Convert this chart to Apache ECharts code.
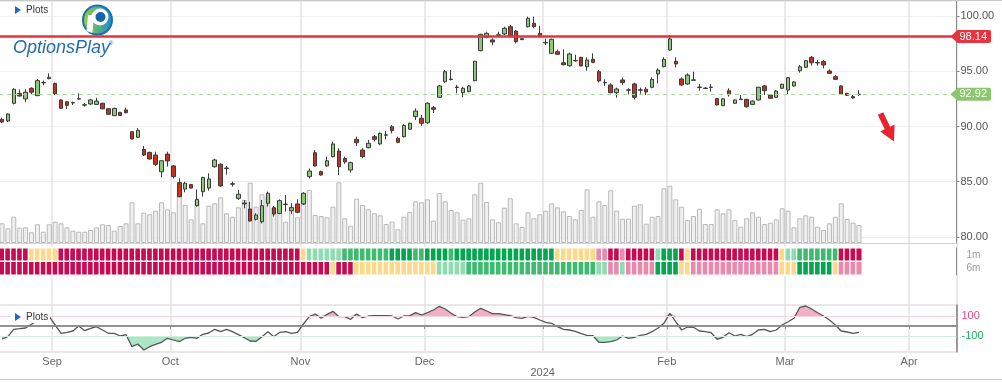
<!DOCTYPE html>
<html><head><meta charset="utf-8">
<script src="https://cdn.jsdelivr.net/npm/echarts@6/dist/echarts.min.js"></script>
<style>html,body{margin:0;padding:0;background:#fff}#c{width:1002px;height:382px}</style>
</head><body><div id="c"></div><script>
// ---------- data ----------
const START_DATE = '2023-08-21';
const HOLIDAYS = ['2023-09-04','2023-11-23','2023-12-25','2024-01-01','2024-01-15','2024-02-19'];
const SLOT_COUNT = 162;
const MONTHS = ['Jan','Feb','Mar','Apr','May','Jun','Jul','Aug','Sep','Oct','Nov','Dec'];
const RESISTANCE = 98.14;

const opens = [
90.65,90.5,92.1,93.0,92.5,93.46,92.79,93.95,94.33,93.9,
92.4,92.24,92.13,92.48,91.93,92.04,92.0,92.1,91.61,90.98,
91.28,91.5,89.53,89.02,87.93,87.66,87.42,85.9,87.5,86.43,
84.92,84.34,84.74,82.83,84.1,84.43,86.36,86.58,86.2,84.78,
83.5,83.08,82.53,81.6,81.38,83.05,82.65,82.14,82.94,82.38,
82.99,82.99,85.46,87.63,85.91,86.43,87.27,87.78,87.1,86.06,
88.84,87.87,88.08,89.08,88.42,89.21,89.98,88.93,89.08,89.75,
90.89,90.74,90.34,91.7,92.64,94.05,94.25,93.53,93.06,93.15,
94.15,96.86,98.07,97.83,98.26,98.37,99.03,98.64,97.95,99.03,
99.34,98.43,97.57,96.62,96.77,95.77,95.5,95.94,96.26,95.41,
96.08,94.96,93.95,93.76,93.06,94.21,93.28,93.85,93.28,93.37,
93.55,94.75,95.41,96.92,95.9,94.3,93.85,94.18,93.53,93.44,
93.53,92.52,91.88,93.24,92.1,92.44,92.46,92.0,92.4,93.67,
92.85,92.64,93.46,93.3,93.67,95.05,95.36,96.26,95.75,95.87,
95.02,94.51,93.67,93.0,92.7,92.9];
const closes = [
90.41,91.13,93.37,92.76,93.1,93.1,94.15,93.99,94.45,92.94,
91.65,91.92,92.16,92.52,91.97,92.4,92.3,91.6,91.1,91.64,
91.0,91.25,88.87,89.66,87.42,87.06,86.58,86.9,86.88,85.46,
83.65,84.86,84.43,83.41,85.37,85.25,86.97,84.62,86.24,84.82,
83.87,83.0,81.45,81.99,82.83,83.96,82.08,83.29,82.98,82.65,
82.23,83.96,85.97,86.43,85.61,86.9,88.42,86.36,86.8,86.73,
88.53,87.27,88.48,88.84,89.38,89.25,89.62,88.57,90.1,90.29,
91.4,90.29,92.1,91.56,93.67,94.96,94.29,93.57,93.46,93.67,
95.9,98.34,98.43,97.65,98.3,98.89,98.13,97.67,97.86,99.79,
99.03,98.13,97.61,97.89,96.53,95.59,96.56,95.98,95.48,96.02,
95.81,94.12,93.99,93.06,93.39,93.97,93.32,92.64,93.32,93.12,
94.27,95.11,96.08,97.92,95.66,93.76,94.66,94.22,93.57,93.48,
93.57,91.95,92.5,92.88,92.4,92.48,91.79,92.3,93.55,93.24,
92.55,93.21,93.82,94.42,94.03,95.41,95.96,95.77,95.79,95.57,
94.81,94.27,92.91,92.82,92.58,92.92];
const lows = [
90.3,90.4,92.0,92.7,92.2,92.85,92.75,93.73,94.27,92.85,
91.6,91.6,91.95,92.45,91.8,91.95,91.95,91.55,91.05,90.95,
90.97,91.2,88.82,88.95,87.33,87.0,86.43,85.4,86.37,85.3,
83.6,84.04,84.38,82.75,83.65,84.2,86.27,84.55,85.64,84.57,
83.35,82.6,81.4,81.5,81.23,82.75,81.85,82.05,82.3,82.08,
82.14,82.9,85.3,86.36,85.55,86.36,87.2,85.6,86.63,85.82,
88.23,87.12,88.03,88.66,88.35,88.84,89.38,88.48,89.0,89.7,
90.59,90.05,90.25,91.22,92.6,93.95,94.15,93.0,92.64,93.1,
94.1,96.8,97.98,97.35,98.13,98.28,98.07,97.52,97.83,98.97,
98.88,98.07,97.37,96.56,96.47,95.53,95.41,95.86,95.45,95.05,
95.72,94.0,93.67,93.0,92.61,93.76,92.9,92.45,92.97,92.85,
93.46,93.9,95.35,96.86,95.35,93.67,93.76,94.15,93.24,93.4,
93.15,91.9,91.85,92.7,92.05,92.4,91.7,91.95,92.35,92.85,
92.5,92.6,93.4,92.94,93.6,94.87,95.3,95.5,95.5,95.26,
94.75,94.21,92.85,92.76,92.52,92.76];
const highs = [
90.8,91.2,93.45,93.35,93.37,93.55,94.3,94.15,94.81,93.97,
92.45,92.3,92.25,93.0,92.13,92.5,92.6,92.15,91.65,91.7,
91.32,91.7,89.6,89.85,88.23,87.72,87.72,86.95,87.72,86.52,
85.3,85.0,84.8,84.3,85.46,85.76,87.06,86.67,86.43,85.0,
84.25,83.35,83.17,82.15,83.35,84.1,82.8,83.41,83.8,83.05,
83.41,84.05,86.2,87.87,86.0,87.27,88.63,88.03,87.27,86.82,
89.08,88.03,88.78,89.23,89.45,89.6,90.13,89.08,90.2,90.35,
91.64,91.04,92.2,91.86,93.75,95.11,95.11,93.77,93.6,93.75,
95.95,98.4,98.58,97.98,98.58,99.03,99.18,98.73,97.98,99.94,
99.94,99.09,97.95,97.95,96.98,96.98,96.68,96.5,96.3,96.26,
96.62,95.11,94.27,93.91,93.52,94.42,93.46,93.97,93.52,93.55,
94.45,95.26,96.26,98.28,96.26,94.45,94.81,94.96,93.85,93.55,
93.85,92.6,92.55,93.46,92.45,92.85,92.5,92.35,93.6,93.76,
92.9,93.3,93.88,94.48,94.1,95.56,96.02,96.38,96.02,96.02,
95.17,94.66,93.73,93.06,92.85,93.3];
const volumesM = [
1.97,1.47,2.63,1.53,1.57,1.07,1.87,1.13,1.87,2.13,
1.97,1.57,1.23,1.13,1.13,1.30,1.57,1.87,1.80,1.23,
1.70,1.97,4.07,1.97,3.03,2.87,3.23,4.07,3.37,3.07,
4.87,3.80,2.37,4.30,1.97,3.73,3.97,4.57,2.97,2.63,
3.57,4.30,6.03,3.63,4.87,4.70,3.53,4.20,2.13,3.63,
2.57,4.80,5.30,2.80,2.70,2.57,3.63,6.07,2.47,1.73,
4.43,3.80,3.37,2.97,2.77,1.90,2.13,1.37,2.63,3.10,
4.17,4.07,4.37,2.23,5.00,4.17,3.30,3.07,2.33,2.47,
4.87,6.03,4.10,2.37,2.07,3.53,4.47,1.97,1.60,3.07,
2.47,2.87,3.23,3.97,3.57,3.17,2.70,2.37,3.30,5.37,
2.63,4.17,3.80,5.27,3.23,2.43,2.43,3.73,3.87,1.93,
2.63,2.70,5.47,5.73,4.37,3.63,2.30,2.70,3.43,1.90,
1.90,3.37,2.97,3.37,2.30,1.63,2.47,3.07,2.63,1.90,
2.03,2.37,3.47,3.23,1.57,2.47,2.77,2.63,1.63,1.30,
1.97,2.63,3.97,2.40,2.03,1.80];
const cci = [
-130,-107,-33,-27,-20,17,53,77,93,10,
-73,-63,-50,0,-47,-23,-7,-40,-73,-73,
-100,-87,-207,-180,-240,-207,-183,-163,-123,-140,
-157,-123,-113,-123,-83,-70,-33,-57,-33,-57,
-87,-117,-150,-153,-107,-57,-107,-63,-57,-73,
-63,20,93,120,77,117,147,93,93,67,
120,83,100,103,103,103,100,70,100,103,
133,110,133,160,197,170,127,93,87,93,
140,177,150,123,123,113,103,83,77,97,
87,60,37,27,-7,-33,-40,-53,-77,-93,
-97,-163,-163,-157,-140,-100,-123,-113,-93,-83,
-57,-20,27,127,43,-40,-10,-13,-50,-57,
-67,-133,-113,-67,-100,-83,-107,-83,-40,-33,
-57,-40,10,43,77,187,200,170,133,100,
60,10,-50,-60,-73,-63];
// rating levels: 0 strong bearish .. 5 strong bullish
const rating1m = [
0,0,0,0,0,2,2,2,2,2,
0,0,0,0,0,0,0,0,0,0,
0,0,0,0,0,0,0,0,0,0,
0,0,0,0,0,0,0,0,0,0,
0,0,0,0,0,0,0,0,0,0,
0,2,3,3,3,3,3,3,4,4,
4,4,4,4,4,4,5,5,5,5,
4,4,5,5,5,5,4,5,5,5,
5,5,5,5,5,5,5,5,5,5,
5,5,5,5,2,2,2,2,2,2,
2,1,1,0,0,1,0,0,0,0,
0,3,5,5,5,0,2,0,0,0,
0,0,0,0,0,0,0,0,0,0,
0,0,2,3,3,4,4,4,4,4,
4,4,0,0,0,0];
const rating6m = [
0,0,0,0,0,0,0,0,0,0,
0,0,0,0,0,0,0,0,0,0,
0,0,0,0,0,0,0,0,0,0,
0,0,0,0,0,0,0,0,0,0,
0,0,0,0,0,0,0,0,0,0,
0,0,0,0,0,0,2,0,0,0,
2,2,2,2,2,2,2,2,2,2,
2,2,2,2,3,3,3,3,3,4,
4,4,4,4,4,4,4,4,4,4,
4,4,4,4,4,4,4,4,4,4,
4,3,3,1,1,3,1,1,1,1,
1,5,5,5,5,2,2,1,1,1,
1,1,1,1,1,1,1,1,1,1,
1,1,2,2,2,5,5,5,5,5,
5,2,1,1,1,1];
const RATING_COLORS = ['#c90a50','#e98aac','#fdd98a','#90dbb1','#3dbb6f','#04a64f'];

// ---------- build ----------
function buildDates(){
  const out=[]; const d=new Date(START_DATE+'T00:00:00Z');
  while(out.length<SLOT_COUNT){
    const iso=d.toISOString().slice(0,10), wd=d.getUTCDay();
    if(wd!==0&&wd!==6&&HOLIDAYS.indexOf(iso)<0) out.push(iso);
    d.setUTCDate(d.getUTCDate()+1);
  }
  return out;
}
const dates=buildDates();
const isMonthStart=(i)=> i>0 && dates[i].slice(5,7)!==dates[i-1].slice(5,7);
const monthInterval=(i)=>isMonthStart(i);
const candles=opens.map((o,i)=>[o,closes[i],lows[i],highs[i]]);
const lastClose=closes[closes.length-1];
const heat=[];
rating1m.forEach((v,i)=>heat.push([i,1,v]));
rating6m.forEach((v,i)=>heat.push([i,0,v]));
const cciUpper=cci.map(v=>Math.max(v,100));
const cciLower=cci.map(v=>Math.min(v,-100));

const FONT='Liberation Sans';
const L=-1, W=957.5;
const chart=echarts.init(document.getElementById('c'),null,{renderer:'canvas'});
const tagLabel=(bg)=>({show:true,position:'end',distance:0,formatter:p=>Number(p.value).toFixed(2),
  color:'#fff',fontSize:11,fontFamily:FONT,backgroundColor:bg,padding:[1,4,0,3],lineHeight:12,borderRadius:2});

chart.setOption({
  animation:false,
  textStyle:{fontFamily:FONT},
  grid:[
    {left:L,width:W,top:1,height:242,outerBoundsMode:'none'},
    {left:L,width:W,top:248,height:27,outerBoundsMode:'none'},
    {left:L,width:W,top:305,height:47,outerBoundsMode:'none',show:true,borderColor:'#d0d0d0',borderWidth:1},
    {left:L,width:W,top:1,height:351,outerBoundsMode:'none'}
  ],
  xAxis:[
    {type:'category',gridIndex:0,data:dates,boundaryGap:true,axisLine:{show:true,lineStyle:{color:'#d4d4d4'}},axisTick:{show:false},axisLabel:{show:false},splitLine:{show:false}},
    {type:'category',gridIndex:1,data:dates,boundaryGap:true,axisLine:{show:false},axisTick:{show:false},axisLabel:{show:false},splitLine:{show:false}},
    {type:'category',gridIndex:2,data:dates,boundaryGap:true,
      axisLine:{show:true,lineStyle:{color:'#808080',width:1.5}},
      axisTick:{show:true,interval:monthInterval,length:3,lineStyle:{color:'#999'}},
      axisLabel:{show:true,interval:monthInterval,margin:4,color:'#666',fontSize:11,lineHeight:11,padding:[0,6,0,0],
        formatter:(v)=>{const m=+v.slice(5,7)-1;return m===0?'\n'+v.slice(0,4):MONTHS[m];}},
      splitLine:{show:false}},
    {type:'category',gridIndex:3,data:dates,boundaryGap:true,axisLine:{show:false},axisTick:{show:false},axisLabel:{show:false},
      splitLine:{show:true,interval:monthInterval,lineStyle:{color:'#e3e3e3',width:1.5}}}
  ],
  yAxis:[
    {type:'value',gridIndex:0,position:'right',min:79.457,max:101.357,scale:true,
      axisLine:{show:true,lineStyle:{color:'#8a8a8a'}},
      axisTick:{show:true,length:3,lineStyle:{color:'#8a8a8a'}},
      axisLabel:{show:true,margin:4,color:'#555',fontSize:11,showMinLabel:false,showMaxLabel:false,formatter:v=>v.toFixed(2)},
      splitLine:{show:true,lineStyle:{color:'#efefef'}}},
    {type:'value',gridIndex:0,min:0,max:24.2,show:false,splitLine:{show:false}},
    {type:'category',gridIndex:1,position:'right',data:['6m','1m'],
      axisLine:{show:true,lineStyle:{color:'#8a8a8a'}},axisTick:{show:false},
      axisLabel:{show:true,margin:10,color:'#999',fontSize:10},splitLine:{show:false}},
    {type:'value',gridIndex:2,position:'right',min:-260,max:210,
      axisLine:{show:true,lineStyle:{color:'#808080',width:1.5}},axisTick:{show:false},
      axisLabel:{show:true,margin:5,fontSize:11,showMinLabel:false,showMaxLabel:false,
        formatter:v=>v===100?'{p|100}':(v===-100?'{g|-100}':''),
        rich:{p:{color:'#e4457c',fontSize:11},g:{color:'#1fb25a',fontSize:11}}},
      splitLine:{show:false}},
    {type:'value',gridIndex:3,show:false,splitLine:{show:false}}
  ],
  visualMap:{type:'piecewise',show:false,seriesIndex:2,dimension:2,
    pieces:RATING_COLORS.map((c,i)=>({value:i,color:c}))},
  series:[
    {type:'bar',name:'Volume',xAxisIndex:0,yAxisIndex:1,data:volumesM,barWidth:5,
      itemStyle:{color:'#f0f0f0',borderColor:'#b9b9b9',borderWidth:1},silent:true},
    {type:'candlestick',name:'Price',xAxisIndex:0,yAxisIndex:0,data:candles,barWidth:4,
      itemStyle:{color:'#8dc878',color0:'#c3321f',borderColor:'#3a3a3a',borderColor0:'#3a3a3a',borderWidth:1},
      markLine:{silent:true,symbol:['none','none'],
        data:[
          {yAxis:RESISTANCE,lineStyle:{color:'#e8333d',width:2.5,type:'solid'},label:tagLabel('#e8333d')},
          {yAxis:lastClose,lineStyle:{color:'#a9d89c',width:1,type:[4,4]},label:tagLabel('#8cc66e')}
        ]}},
    {type:'heatmap',name:'Rating',xAxisIndex:1,yAxisIndex:2,data:heat,
      itemStyle:{borderColor:'#fff',borderWidth:1.3},silent:true},
    {type:'line',name:'upper',xAxisIndex:2,yAxisIndex:3,data:cciUpper,showSymbol:false,symbol:'none',
      lineStyle:{width:0,opacity:0},areaStyle:{origin:100,color:'#f2b0c6',opacity:1},silent:true,z:2},
    {type:'line',name:'lower',xAxisIndex:2,yAxisIndex:3,data:cciLower,showSymbol:false,symbol:'none',
      lineStyle:{width:0,opacity:0},areaStyle:{origin:-100,color:'#abe6c6',opacity:1},silent:true,z:2},
    {type:'line',name:'CCI',xAxisIndex:2,yAxisIndex:3,data:cci,showSymbol:false,symbol:'none',
      lineStyle:{color:'#555',width:1.3},silent:true,z:3,
      markLine:{silent:true,symbol:['none','none'],label:{show:false},
        data:[
          {yAxis:0,lineStyle:{color:'#8d8d8d',width:1.5,type:'solid'}},
          {yAxis:100,lineStyle:{color:'#f8d2de',width:1,type:'solid'}},
          {yAxis:-100,lineStyle:{color:'#cfeedd',width:1,type:'solid'}}
        ]}}
  ]
});

// annotations (tag pointers computed from the library's scales)
const x0=chart.convertToPixel({xAxisIndex:0},dates[0]);
const x1=chart.convertToPixel({xAxisIndex:0},dates[1]);
const band=x1-x0;
const xEdge=chart.convertToPixel({xAxisIndex:0},dates[SLOT_COUNT-1])+band/2;
const yR=chart.convertToPixel({yAxisIndex:0},RESISTANCE);
const yC=chart.convertToPixel({yAxisIndex:0},lastClose);
const tri=(y,c)=>({type:'polygon',z:100,shape:{points:[[xEdge-6,y],[xEdge+1,y-6.5],[xEdge+1,y+6.5]]},style:{fill:c}});
chart.setOption({graphic:[
  {type:'line',z:100,shape:{x1:0,y1:0.5,x2:1002,y2:0.5},style:{stroke:'#c8c8c8',lineWidth:1}},
  {type:'line',z:100,shape:{x1:0,y1:379.5,x2:1002,y2:379.5},style:{stroke:'#c8c8c8',lineWidth:1}},
  tri(yR,'#e8333d'), tri(yC,'#8cc66e'),
  {type:'polygon',z:100,shape:{points:[[15,6],[15,14],[21,10]]},style:{fill:'#2463d6'}},
  {type:'text',z:100,style:{text:'Plots',x:26,y:10,fontSize:10,fontFamily:FONT,fill:'#333',verticalAlign:'middle'}},
  {type:'rect',z:100,shape:{x:11,y:309,width:39,height:14},style:{fill:'#fff'}},
  {type:'polygon',z:101,shape:{points:[[15,313],[15,321],[21,317]]},style:{fill:'#2463d6'}},
  {type:'text',z:101,style:{text:'Plots',x:26,y:317,fontSize:10,fontFamily:FONT,fill:'#333',verticalAlign:'middle'}},
  // logo
  {type:'circle',z:100,shape:{cx:97.5,cy:20,r:15.5},style:{fill:'#1b6fb3'}},
  {type:'circle',z:100,shape:{cx:97.5,cy:20,r:13.5},style:{fill:new echarts.graphic.LinearGradient(0,0,1,0,[{offset:0,color:'#9ccc3c'},{offset:1,color:'#1f8fc8'}])}},
  {type:'polygon',z:101,shape:{points:[[88,15],[94,15],[92.5,33],[86.5,31]]},style:{fill:'#fff'}},
  {type:'circle',z:101,shape:{cx:100,cy:17,r:8.5},style:{fill:'#fff'}},
  {type:'circle',z:102,shape:{cx:100.5,cy:17,r:5},style:{fill:'#1565a8'}},
  {type:'text',z:100,style:{text:'OptionsPlay',x:13,y:48,fontSize:18,fontStyle:'italic',fontFamily:FONT,fill:'#1f6db3',verticalAlign:'middle'}},
  {type:'text',z:100,style:{text:'®',x:109,y:43,fontSize:6,fontFamily:FONT,fill:'#1f6db3',verticalAlign:'middle'}},
  // trend arrow
  {type:'polygon',z:100,shape:{points:[[877.8,114.8],[884.7,129.3],[880.2,131.5],[894,141.5],[894.6,124.5],[890.1,126.7],[883.2,112.2]]},style:{fill:'#e8232f'}}
]});
</script></body></html>
